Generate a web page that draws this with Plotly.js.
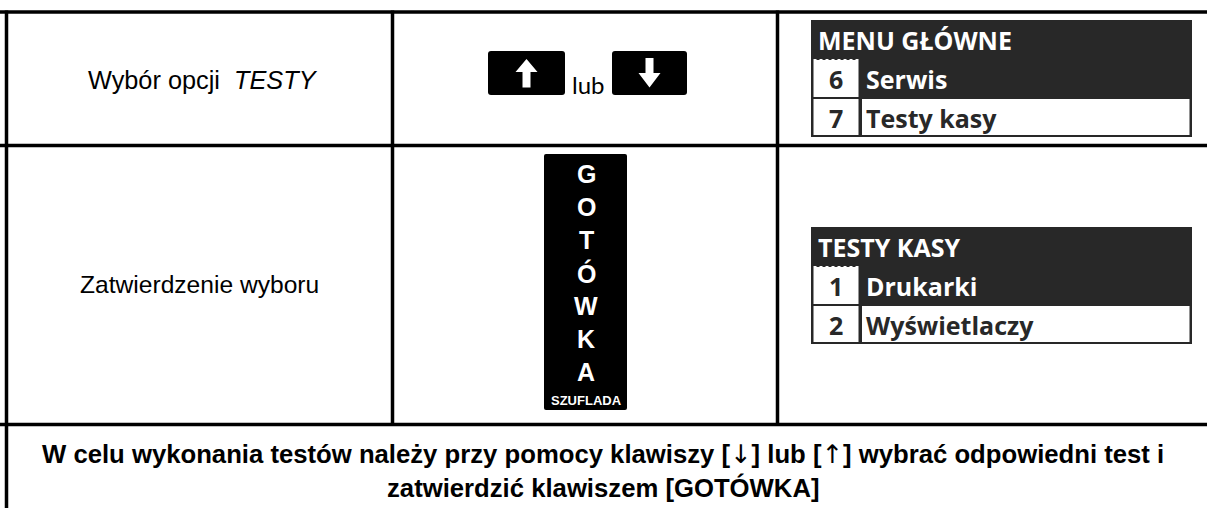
<!DOCTYPE html>
<html>
<head>
<meta charset="utf-8">
<script src="https://cdn.plot.ly/plotly-3.0.1.min.js"></script>
<style>
html,body{margin:0;padding:0;background:#fff;}
#chart{width:1207px;height:508px;}
</style>
</head>
<body>
<div id="chart"></div>
<script>
// ---- content ----
const rowLabels = ["Wybór opcji\u00a0 <i>TESTY</i>", "Zatwierdzenie wyboru"];
const keyWord = "lub";
const cashKeyLetters = ["G", "O", "T", "Ó", "W", "K", "A"];
const cashKeyCaption = "SZUFLADA";
const menuTitles = ["MENU GŁÓWNE", "TESTY KASY"];
const menuNumbers = [["6", "7"], ["1", "2"]];
const menuItems = [["Serwis", "Testy kasy"], ["Drukarki", "Wyświetlaczy"]];
const arrowDown = "<span style='font-family:DejaVu Sans;font-weight:normal'>↓</span>";
const arrowUp = "<span style='font-family:DejaVu Sans;font-weight:normal'>↑</span>";
const footerLines = [
  "W celu wykonania testów należy przy pomocy klawiszy [" + arrowDown + "] lub [" + arrowUp + "] wybrać odpowiedni test i",
  "zatwierdzić klawiszem [GOTÓWKA]"
];

// ---- layout geometry ----
const W = 1207, H = 508;
const gridX = [6.5, 392.5, 777.5];
const gridY = [12, 145.5, 424.5];
const rowCenters = [80, 284];
const menuTops = [20, 227];
const dark = "#282828";

const shapes = [];
const ann = [];
const line = (x0, y0, x1, y1, w) => shapes.push({type: "line", xref: "x", yref: "y", x0, y0, x1, y1, line: {color: "#000", width: w}});
const rect = (x0, y0, x1, y1, fill) => shapes.push({type: "rect", xref: "x", yref: "y", x0, y0, x1, y1, line: {width: 0}, fillcolor: fill});
function roundRect(x0, y0, x1, y1, r) {
  return `M${x0 + r},${y0} L${x1 - r},${y0} Q${x1},${y0} ${x1},${y0 + r} L${x1},${y1 - r} Q${x1},${y1} ${x1 - r},${y1} L${x0 + r},${y1} Q${x0},${y1} ${x0},${y1 - r} L${x0},${y0 + r} Q${x0},${y0} ${x0 + r},${y0} Z`;
}
const path = (d, fill) => shapes.push({type: "path", xref: "x", yref: "y", path: d, fillcolor: fill, line: {width: 0}});
const text = (x, y, t, font, xanchor = "center") => ann.push({x, y, xref: "x", yref: "y", text: t, showarrow: false, xanchor, yanchor: "middle", font});

// grid lines
line(0, gridY[0], W, gridY[0], 3.5);
line(0, gridY[1], W, gridY[1], 3.5);
line(0, gridY[2], W, gridY[2], 3.5);
line(gridX[0], gridY[0] - 1.5, gridX[0], H, 3.5);
line(gridX[1], gridY[0] - 1.5, gridX[1], gridY[2], 3.5);
line(gridX[2], gridY[0] - 1.5, gridX[2], gridY[2], 3.5);

// column 1 labels
text(203, rowCenters[0], rowLabels[0], {family: "Liberation Sans, Arial, sans-serif", size: 25.3, color: "#000"});
text(199, rowCenters[1], rowLabels[1], {family: "Liberation Sans, Arial, sans-serif", size: 24.6, color: "#000"});

// arrow keys
path(roundRect(488, 51, 565, 95, 3), "#000");
path(roundRect(612, 51, 687, 95, 3), "#000");
// up arrow
const ux = 526.5;
path(`M${ux - 4},87.5 L${ux - 4},72 L${ux - 11},72 L${ux},59 L${ux + 11},72 L${ux + 4},72 L${ux + 4},87.5 Z`, "#fff");
// down arrow
const dx = 649.5;
path(`M${dx - 4},58 L${dx - 4},73 L${dx - 11},73 L${dx},87.5 L${dx + 11},73 L${dx + 4},73 L${dx + 4},58 Z`, "#fff");
text(588, 84, keyWord, {family: "Lato, sans-serif", size: 24, color: "#000"});

// cash key
path(roundRect(544, 154, 627, 410, 2), "#000");
cashKeyLetters.forEach((c, i) => {
  text(586, 174 + i * 33, c, {family: "Liberation Sans, Arial, sans-serif", size: 25, color: "#fff", weight: 700});
});
text(586, 400, cashKeyCaption, {family: "Liberation Sans, Arial, sans-serif", size: 13, color: "#fff", weight: 700});

// menu boxes
const menuFont = (c) => ({family: "Open Sans, sans-serif", size: 25, color: c, weight: 700});
menuTops.forEach((t, m) => {
  rect(811, t, 1192, t + 117, dark);
  rect(813.5, t + 40, 858.5, t + 77, "#fff");
  rect(813.5, t + 79, 858.5, t + 115, "#fff");
  rect(862, t + 79, 1189.5, t + 115, "#fff");
  shapes.push({type: "line", xref: "x", yref: "y", x0: 813.5, x1: 858.5, y0: t + 39.5, y1: t + 39.5, line: {color: "#fff", width: 1, dash: "dot"}});
  text(816, t + 20, menuTitles[m], menuFont("#fff"), "left");
  text(836, t + 59, menuNumbers[m][0], menuFont(dark));
  text(836, t + 97.5, menuNumbers[m][1], menuFont(dark));
  text(864, t + 59, menuItems[m][0], menuFont("#fff"), "left");
  text(864, t + 97.5, menuItems[m][1], menuFont(dark), "left");
});

// footer
const footFont = {family: "Liberation Sans, Arial, sans-serif", size: 25.7, color: "#000", weight: 700};
text(603, 454, footerLines[0], footFont);
text(603, 487, footerLines[1], footFont);

const layout = {
  width: W, height: H,
  margin: {l: 0, r: 0, t: 0, b: 0},
  paper_bgcolor: "#fff", plot_bgcolor: "#fff",
  xaxis: {range: [0, W], visible: false, fixedrange: true},
  yaxis: {range: [H, 0], visible: false, fixedrange: true},
  showlegend: false,
  shapes, annotations: ann
};
Plotly.newPlot("chart", [], layout, {displayModeBar: false, staticPlot: true});
</script>
</body>
</html>
